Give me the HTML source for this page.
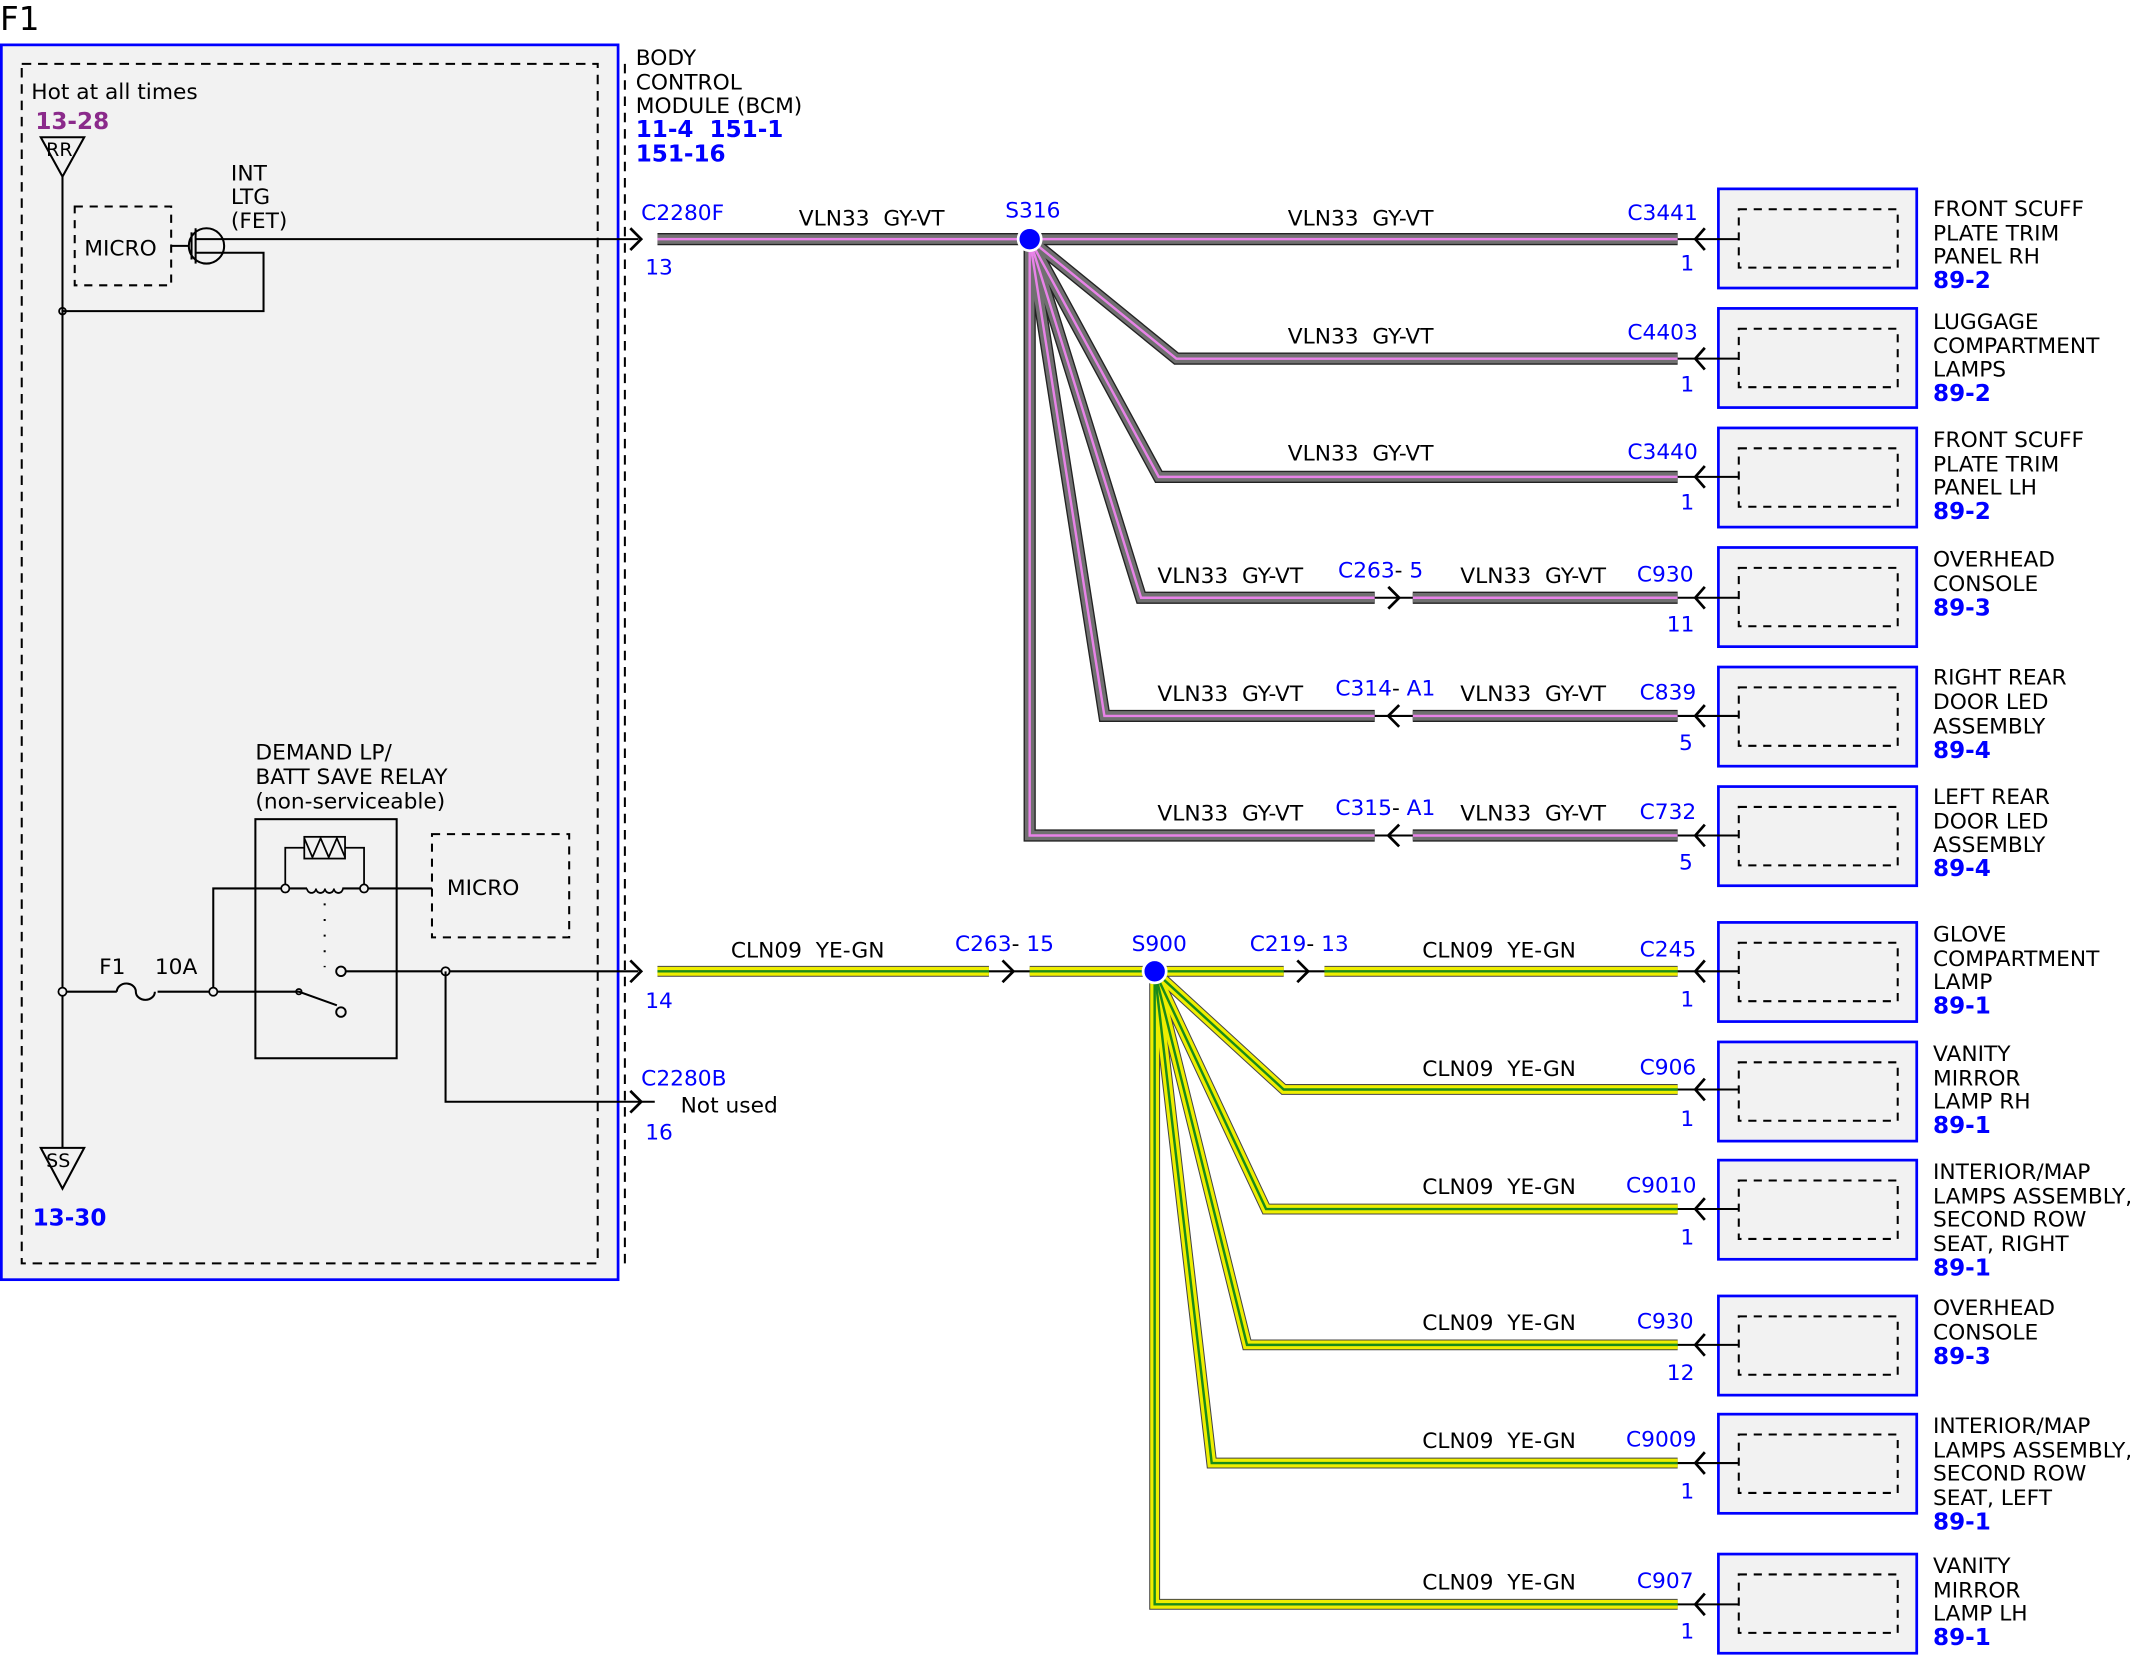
<!DOCTYPE html>
<html><head><meta charset="utf-8"><style>
html,body{margin:0;padding:0;background:#fff}
svg{display:block}
text{font-family:"DejaVu Sans","Liberation Sans",sans-serif;font-size:16px;fill:#000;white-space:pre}
.b{fill:#0000ff}
.bb{fill:#0000ff;font-weight:bold;font-size:17px}
.p{fill:#8b2a8b;font-weight:bold;font-size:17px}
</style></head><body>
<svg width="2130" height="1656" viewBox="0 0 1568 1219" xmlns="http://www.w3.org/2000/svg" xml:space="preserve">
<defs>
<path id="v1" d="M484,176 H1235"/>
<path id="v2" d="M758,176 L866,264 H1235"/>
<path id="v3" d="M758,176 L853,351 H1235"/>
<path id="v4a" d="M758,176 L840,440 H1012"/>
<path id="v4b" d="M1040,440 H1235"/>
<path id="v5a" d="M758,176 L813,527 H1012"/>
<path id="v5b" d="M1040,527 H1235"/>
<path id="v6a" d="M758,176 V615 H1012"/>
<path id="v6b" d="M1040,615 H1235"/>
<path id="y1a" d="M484,715 H728"/>
<path id="y1b" d="M758,715 H945"/>
<path id="y1c" d="M975,715 H1235"/>
<path id="y2" d="M850,715 L945,802 H1235"/>
<path id="y3" d="M850,715 L932,890 H1235"/>
<path id="y4" d="M850,715 L918,990 H1235"/>
<path id="y5" d="M850,715 L892,1077 H1235"/>
<path id="y6" d="M850,715 V1181 H1235"/>
</defs>
<text x="0" y="22" style="font-size:24px">F1</text>
<rect x="1" y="33" width="454" height="909" fill="#f2f2f2" stroke="#0000ff" stroke-width="2"/>
<rect x="16" y="47" width="424" height="883" fill="none" stroke="#000" stroke-width="1.5" stroke-dasharray="7,5"/>
<line x1="460" y1="47" x2="460" y2="930" stroke="#000" stroke-width="1.5" stroke-dasharray="7,5"/>
<text x="23" y="73">Hot at all times</text>
<text x="26" y="95" class="p">13-28</text>
<path d="M30,101 H62 L46,130 Z" fill="none" stroke="#000" stroke-width="1.5"/>
<text x="34" y="115" style="font-size:14px">RR</text>
<line x1="46" y1="130" x2="46" y2="845" stroke="#000" stroke-width="1.5"/>
<path d="M30,845 H62 L46,875 Z" fill="none" stroke="#000" stroke-width="1.5"/>
<text x="34" y="859" style="font-size:14px">SS</text>
<text x="24" y="902" class="bb">13-30</text>
<rect x="55" y="152" width="71" height="58" fill="none" stroke="#000" stroke-width="1.5" stroke-dasharray="6,5"/>
<text x="62" y="188">MICRO</text>
<line x1="126" y1="181" x2="139" y2="181" stroke="#000" stroke-width="1.5"/>
<circle cx="152" cy="181" r="13" fill="none" stroke="#000" stroke-width="1.5"/>
<line x1="141" y1="171" x2="141" y2="191" stroke="#000" stroke-width="1.5"/>
<line x1="144" y1="168" x2="144" y2="194" stroke="#000" stroke-width="1.5"/>
<line x1="144" y1="176" x2="470" y2="176" stroke="#000" stroke-width="1.5"/>
<path d="M144,186 H194 V229 H46" fill="none" stroke="#000" stroke-width="1.5"/>
<circle cx="46" cy="229" r="2.5" fill="none" stroke="#000" stroke-width="1.3"/>
<text x="170" y="133">INT</text><text x="170" y="150">LTG</text><text x="170" y="168">(FET)</text>
<text x="468" y="48">BODY</text><text x="468" y="66">CONTROL</text><text x="468" y="83">MODULE (BCM)</text>
<text x="468" y="101" class="bb">11-4  151-1</text><text x="468" y="119" class="bb">151-16</text>
<text x="188" y="559">DEMAND LP/</text><text x="188" y="577">BATT SAVE RELAY</text><text x="188" y="595">(non-serviceable)</text>
<rect x="188" y="603" width="104" height="176" fill="none" stroke="#000" stroke-width="1.5"/>
<rect x="318" y="614" width="101" height="76" fill="none" stroke="#000" stroke-width="1.5" stroke-dasharray="6,5"/>
<text x="329" y="659">MICRO</text>
<rect x="224" y="616" width="30" height="16" fill="none" stroke="#000" stroke-width="1.3"/>
<path d="M224,617 L230,631 L236,617 L242,631 L248,617 L254,631" fill="none" stroke="#000" stroke-width="1.3"/>
<path d="M224,624 H210 V654 M254,624 H268 V654" fill="none" stroke="#000" stroke-width="1.3"/>
<path d="M157,730 V654 H226 M252,654 H318" fill="none" stroke="#000" stroke-width="1.5"/>
<path d="M226,654 a3.3,3.3 0 0 0 6.6,0 a3.3,3.3 0 0 0 6.6,0 a3.3,3.3 0 0 0 6.6,0 a3.3,3.3 0 0 0 6.6,0" fill="none" stroke="#000" stroke-width="1.3"/>
<circle cx="210" cy="654" r="3" fill="#f2f2f2" stroke="#000" stroke-width="1.3"/>
<circle cx="268" cy="654" r="3" fill="#f2f2f2" stroke="#000" stroke-width="1.3"/>
<line x1="239" y1="665" x2="239" y2="712" stroke="#000" stroke-width="1.5" stroke-dasharray="1.5,10"/>
<path d="M46,730 H86 M116,730 H220 L248,740" fill="none" stroke="#000" stroke-width="1.5"/>
<path d="M86,730 a7,6 0 0 1 14,0 a7,6 0 0 0 14,0" fill="none" stroke="#000" stroke-width="1.5"/>
<circle cx="220" cy="730" r="2" fill="none" stroke="#000" stroke-width="1.3"/>
<circle cx="251" cy="745" r="3.5" fill="#f2f2f2" stroke="#000" stroke-width="1.4"/>
<circle cx="251" cy="715" r="3.5" fill="#f2f2f2" stroke="#000" stroke-width="1.4"/>
<line x1="255" y1="715" x2="470" y2="715" stroke="#000" stroke-width="1.5"/>
<circle cx="46" cy="730" r="3" fill="#f2f2f2" stroke="#000" stroke-width="1.3"/>
<circle cx="157" cy="730" r="3" fill="#f2f2f2" stroke="#000" stroke-width="1.3"/>
<circle cx="328" cy="715" r="3" fill="#f2f2f2" stroke="#000" stroke-width="1.3"/>
<path d="M328,715 V811 H482" fill="none" stroke="#000" stroke-width="1.5"/>
<text x="73" y="717">F1</text><text x="114" y="717">10A</text>
<g fill="none" stroke="#000" stroke-width="2">
<path d="M464,168 L472,176 L464,184"/><path d="M464,707 L472,715 L464,723"/><path d="M464,803 L472,811 L464,819"/>
</g>
<text x="472" y="162" class="b">C2280F</text><text x="475" y="202" class="b">13</text>
<text x="475" y="742" class="b">14</text>
<text x="472" y="799" class="b">C2280B</text><text x="475" y="839" class="b">16</text>
<text x="501" y="819">Not used</text>
<g fill="none" stroke-linejoin="miter">
<g stroke="#222" stroke-width="9"><use href="#v1"/><use href="#v2"/><use href="#v3"/><use href="#v4a"/><use href="#v4b"/><use href="#v5a"/><use href="#v5b"/><use href="#v6a"/><use href="#v6b"/></g>
<g stroke="#707070" stroke-width="7"><use href="#v1"/><use href="#v2"/><use href="#v3"/><use href="#v4a"/><use href="#v4b"/><use href="#v5a"/><use href="#v5b"/><use href="#v6a"/><use href="#v6b"/></g>
<g stroke="#e882e8" stroke-width="1.8"><use href="#v1"/><use href="#v2"/><use href="#v3"/><use href="#v4a"/><use href="#v4b"/><use href="#v5a"/><use href="#v5b"/><use href="#v6a"/><use href="#v6b"/></g>
<g stroke="#444" stroke-width="8"><use href="#y1a"/><use href="#y1b"/><use href="#y1c"/><use href="#y2"/><use href="#y3"/><use href="#y4"/><use href="#y5"/><use href="#y6"/></g>
<g stroke="#eeee00" stroke-width="6.5"><use href="#y1a"/><use href="#y1b"/><use href="#y1c"/><use href="#y2"/><use href="#y3"/><use href="#y4"/><use href="#y5"/><use href="#y6"/></g>
<g stroke="#1a8a1a" stroke-width="1.8"><use href="#y1a"/><use href="#y1b"/><use href="#y1c"/><use href="#y2"/><use href="#y3"/><use href="#y4"/><use href="#y5"/><use href="#y6"/></g>
</g>
<circle cx="758" cy="176" r="8.5" fill="#0000ff" stroke="#fff" stroke-width="2"/>
<circle cx="850" cy="715" r="8.5" fill="#0000ff" stroke="#fff" stroke-width="2"/>
<text x="740" y="160" class="b">S316</text><text x="833" y="700" class="b">S900</text>
<g fill="none" stroke="#000" stroke-width="2">
<line x1="1012" y1="440" x2="1040" y2="440" stroke-width="1.5"/><path d="M1022,432 L1030,440 L1022,448"/>
<line x1="1012" y1="527" x2="1040" y2="527" stroke-width="1.5"/><path d="M1030,519 L1022,527 L1030,535"/>
<line x1="1012" y1="615" x2="1040" y2="615" stroke-width="1.5"/><path d="M1030,607 L1022,615 L1030,623"/>
<line x1="728" y1="715" x2="758" y2="715" stroke-width="1.5"/><path d="M738,707 L746,715 L738,723"/>
<line x1="945" y1="715" x2="975" y2="715" stroke-width="1.5"/><path d="M955,707 L963,715 L955,723"/>
</g>
<text x="588" y="166">VLN33  GY-VT</text><text x="948" y="166">VLN33  GY-VT</text>
<text x="948" y="253">VLN33  GY-VT</text><text x="948" y="339">VLN33  GY-VT</text>
<text x="852" y="429">VLN33  GY-VT</text><text x="1075" y="429">VLN33  GY-VT</text>
<text x="852" y="516">VLN33  GY-VT</text><text x="1075" y="516">VLN33  GY-VT</text>
<text x="852" y="604">VLN33  GY-VT</text><text x="1075" y="604">VLN33  GY-VT</text>
<text x="985" y="425" class="b">C263<tspan fill="#000">-</tspan> 5</text>
<text x="983" y="512" class="b">C314<tspan fill="#000">-</tspan> A1</text>
<text x="983" y="600" class="b">C315<tspan fill="#000">-</tspan> A1</text>
<text x="538" y="705">CLN09  YE-GN</text><text x="1047" y="705">CLN09  YE-GN</text>
<text x="703" y="700" class="b">C263<tspan fill="#000">-</tspan> 15</text>
<text x="920" y="700" class="b">C219<tspan fill="#000">-</tspan> 13</text>
<text x="1047" y="792">CLN09  YE-GN</text><text x="1047" y="879">CLN09  YE-GN</text>
<text x="1047" y="979">CLN09  YE-GN</text><text x="1047" y="1066">CLN09  YE-GN</text>
<text x="1047" y="1170">CLN09  YE-GN</text>
<g>
<g fill="none" stroke="#000" stroke-width="2">
<path d="M1255,168 L1248,176 L1255,184"/><path d="M1255,256 L1248,264 L1255,272"/><path d="M1255,343 L1248,351 L1255,359"/>
<path d="M1255,432 L1248,440 L1255,448"/><path d="M1255,519 L1248,527 L1255,535"/><path d="M1255,607 L1248,615 L1255,623"/>
<path d="M1255,707 L1248,715 L1255,723"/><path d="M1255,794 L1248,802 L1255,810"/><path d="M1255,882 L1248,890 L1255,898"/>
<path d="M1255,982 L1248,990 L1255,998"/><path d="M1255,1069 L1248,1077 L1255,1085"/><path d="M1255,1173 L1248,1181 L1255,1189"/>
</g>
<g fill="#f2f2f2" stroke="#0000ff" stroke-width="2">
<rect x="1265" y="139" width="146" height="73"/><rect x="1265" y="227" width="146" height="73"/><rect x="1265" y="315" width="146" height="73"/>
<rect x="1265" y="403" width="146" height="73"/><rect x="1265" y="491" width="146" height="73"/><rect x="1265" y="579" width="146" height="73"/>
<rect x="1265" y="679" width="146" height="73"/><rect x="1265" y="767" width="146" height="73"/><rect x="1265" y="854" width="146" height="73"/>
<rect x="1265" y="954" width="146" height="73"/><rect x="1265" y="1041" width="146" height="73"/><rect x="1265" y="1144" width="146" height="73"/>
</g>
<g fill="none" stroke="#000" stroke-width="1.5" stroke-dasharray="6,5">
<rect x="1280" y="154" width="117" height="43"/><rect x="1280" y="242" width="117" height="43"/><rect x="1280" y="330" width="117" height="43"/>
<rect x="1280" y="418" width="117" height="43"/><rect x="1280" y="506" width="117" height="43"/><rect x="1280" y="594" width="117" height="43"/>
<rect x="1280" y="694" width="117" height="43"/><rect x="1280" y="782" width="117" height="43"/><rect x="1280" y="869" width="117" height="43"/>
<rect x="1280" y="969" width="117" height="43"/><rect x="1280" y="1056" width="117" height="43"/><rect x="1280" y="1159" width="117" height="43"/>
</g>
<g stroke="#000" stroke-width="1.5">
<line x1="1235" y1="176" x2="1280" y2="176"/><line x1="1235" y1="264" x2="1280" y2="264"/><line x1="1235" y1="351" x2="1280" y2="351"/>
<line x1="1235" y1="440" x2="1280" y2="440"/><line x1="1235" y1="527" x2="1280" y2="527"/><line x1="1235" y1="615" x2="1280" y2="615"/>
<line x1="1235" y1="715" x2="1280" y2="715"/><line x1="1235" y1="802" x2="1280" y2="802"/><line x1="1235" y1="890" x2="1280" y2="890"/>
<line x1="1235" y1="990" x2="1280" y2="990"/><line x1="1235" y1="1077" x2="1280" y2="1077"/><line x1="1235" y1="1181" x2="1280" y2="1181"/>
</g>
</g>
<text x="1198" y="162" class="b">C3441</text><text x="1237" y="199" class="b">1</text>
<text x="1198" y="250" class="b">C4403</text><text x="1237" y="288" class="b">1</text>
<text x="1198" y="338" class="b">C3440</text><text x="1237" y="375" class="b">1</text>
<text x="1205" y="428" class="b">C930</text><text x="1227" y="465" class="b">11</text>
<text x="1207" y="515" class="b">C839</text><text x="1236" y="552" class="b">5</text>
<text x="1207" y="603" class="b">C732</text><text x="1236" y="640" class="b">5</text>
<text x="1207" y="704" class="b">C245</text><text x="1237" y="741" class="b">1</text>
<text x="1207" y="791" class="b">C906</text><text x="1237" y="829" class="b">1</text>
<text x="1197" y="878" class="b">C9010</text><text x="1237" y="916" class="b">1</text>
<text x="1205" y="978" class="b">C930</text><text x="1227" y="1016" class="b">12</text>
<text x="1197" y="1065" class="b">C9009</text><text x="1237" y="1103" class="b">1</text>
<text x="1205" y="1169" class="b">C907</text><text x="1237" y="1206" class="b">1</text>
<text x="1423" y="159">FRONT SCUFF</text><text x="1423" y="177">PLATE TRIM</text><text x="1423" y="194">PANEL RH</text><text x="1423" y="212" class="bb">89-2</text>
<text x="1423" y="242">LUGGAGE</text><text x="1423" y="260">COMPARTMENT</text><text x="1423" y="277">LAMPS</text><text x="1423" y="295" class="bb">89-2</text>
<text x="1423" y="329">FRONT SCUFF</text><text x="1423" y="347">PLATE TRIM</text><text x="1423" y="364">PANEL LH</text><text x="1423" y="382" class="bb">89-2</text>
<text x="1423" y="417">OVERHEAD</text><text x="1423" y="435">CONSOLE</text><text x="1423" y="453" class="bb">89-3</text>
<text x="1423" y="504">RIGHT REAR</text><text x="1423" y="522">DOOR LED</text><text x="1423" y="540">ASSEMBLY</text><text x="1423" y="558" class="bb">89-4</text>
<text x="1423" y="592">LEFT REAR</text><text x="1423" y="610">DOOR LED</text><text x="1423" y="627">ASSEMBLY</text><text x="1423" y="645" class="bb">89-4</text>
<text x="1423" y="693">GLOVE</text><text x="1423" y="711">COMPARTMENT</text><text x="1423" y="728">LAMP</text><text x="1423" y="746" class="bb">89-1</text>
<text x="1423" y="781">VANITY</text><text x="1423" y="799">MIRROR</text><text x="1423" y="816">LAMP RH</text><text x="1423" y="834" class="bb">89-1</text>
<text x="1423" y="868">INTERIOR/MAP</text><text x="1423" y="886">LAMPS ASSEMBLY,</text><text x="1423" y="903">SECOND ROW</text><text x="1423" y="921">SEAT, RIGHT</text><text x="1423" y="939" class="bb">89-1</text>
<text x="1423" y="968">OVERHEAD</text><text x="1423" y="986">CONSOLE</text><text x="1423" y="1004" class="bb">89-3</text>
<text x="1423" y="1055">INTERIOR/MAP</text><text x="1423" y="1073">LAMPS ASSEMBLY,</text><text x="1423" y="1090">SECOND ROW</text><text x="1423" y="1108">SEAT, LEFT</text><text x="1423" y="1126" class="bb">89-1</text>
<text x="1423" y="1158">VANITY</text><text x="1423" y="1176">MIRROR</text><text x="1423" y="1193">LAMP LH</text><text x="1423" y="1211" class="bb">89-1</text>
</svg>
</body></html>
